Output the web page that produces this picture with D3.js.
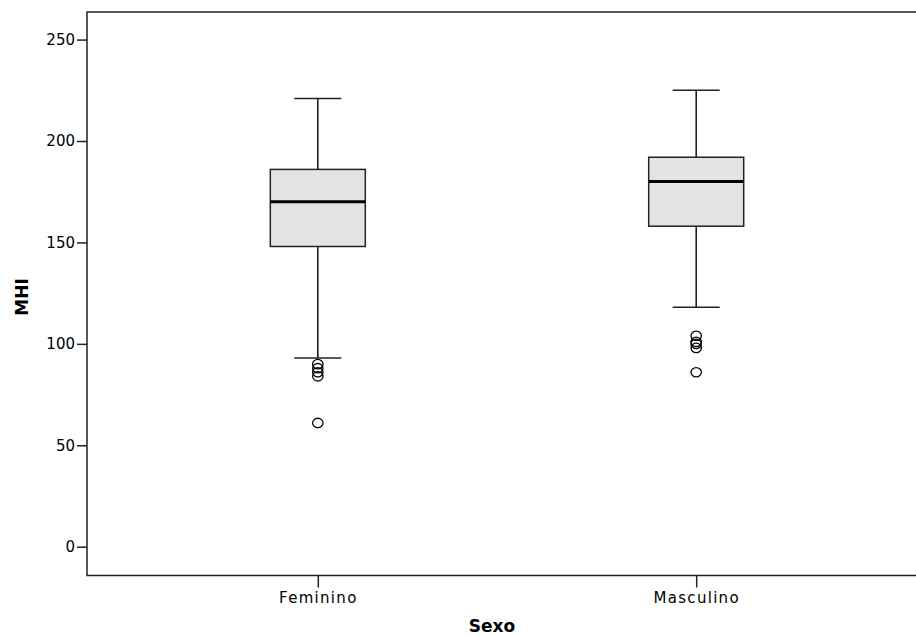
<!DOCTYPE html>
<html>
<head>
<meta charset="utf-8">
<script src="https://cdn.jsdelivr.net/npm/d3@7"></script>
<style>
  body { margin: 0; background: #fff; }
  text { font-family: "DejaVu Sans", Verdana, sans-serif; fill: #000; }
</style>
</head>
<body>
<div id="chart"></div>
<script>
// values
const categories = ['Feminino', 'Masculino'];
const whiskerLow = [93, 118];
const q1 = [148, 158];
const median = [170, 180];
const q3 = [186, 192];
const whiskerHigh = [221, 225];
const outliers = [
  [90, 88, 86, 84, 61],
  [104, 101, 100, 98, 86]
];
const yTicks = [0, 50, 100, 150, 200, 250];

const width = 916, height = 637;
const plot = { left: 87, right: 927, top: 12, bottom: 575.5 };

const svg = d3.select('#chart').append('svg')
  .attr('width', width)
  .attr('height', height);

const x = d3.scalePoint().domain(categories).range([plot.left, plot.right]).padding(0.61);
const y = d3.scaleLinear().domain([-14.2, 263.6]).range([plot.bottom, plot.top]);

const boxW = 95, capW = 47;

const boxes = categories.map((c, i) => ({
  cat: c, lo: whiskerLow[i], q1: q1[i], med: median[i], q3: q3[i], hi: whiskerHigh[i], out: outliers[i]
}));

// frame (right side sits outside the window, as in the reference)
svg.append('rect')
  .attr('x', plot.left).attr('y', plot.top)
  .attr('width', plot.right - plot.left).attr('height', plot.bottom - plot.top)
  .attr('fill', 'none').attr('stroke', '#222').attr('stroke-width', 1.5);

// axes
const yAxis = svg.append('g')
  .attr('transform', `translate(${plot.left},0)`)
  .call(d3.axisLeft(y).tickValues(yTicks).tickSize(10).tickPadding(2));
const xAxis = svg.append('g')
  .attr('transform', `translate(0,${plot.bottom})`)
  .call(d3.axisBottom(x).tickSize(12).tickPadding(5));

[yAxis, xAxis].forEach(a => {
  a.select('.domain').remove();
  a.selectAll('line').attr('stroke', '#222').attr('stroke-width', 1.5);
});
yAxis.selectAll('text').style('font-size', '15px').attr('fill', '#000');
xAxis.selectAll('text').style('font-size', '15px').style('letter-spacing', '1.3px').attr('fill', '#000');

const g = svg.selectAll('.box').data(boxes).enter().append('g').attr('class', 'box');

// whiskers
g.append('line')
  .attr('x1', d => x(d.cat)).attr('x2', d => x(d.cat))
  .attr('y1', d => y(d.hi)).attr('y2', d => y(d.q3))
  .attr('stroke', '#111').attr('stroke-width', 1.5);
g.append('line')
  .attr('x1', d => x(d.cat)).attr('x2', d => x(d.cat))
  .attr('y1', d => y(d.q1)).attr('y2', d => y(d.lo))
  .attr('stroke', '#111').attr('stroke-width', 1.5);
g.selectAll('.cap').data(d => [d.hi, d.lo].map(v => ({ cat: d.cat, v }))).enter()
  .append('line')
  .attr('x1', d => x(d.cat) - capW / 2).attr('x2', d => x(d.cat) + capW / 2)
  .attr('y1', d => y(d.v)).attr('y2', d => y(d.v))
  .attr('stroke', '#222').attr('stroke-width', 1.5);

// box
g.append('rect')
  .attr('x', d => x(d.cat) - boxW / 2).attr('width', boxW)
  .attr('y', d => y(d.q3)).attr('height', d => y(d.q1) - y(d.q3))
  .attr('fill', '#e3e3e3').attr('stroke', '#222').attr('stroke-width', 1.5);

// median
g.append('line')
  .attr('x1', d => x(d.cat) - boxW / 2).attr('x2', d => x(d.cat) + boxW / 2)
  .attr('y1', d => y(d.med)).attr('y2', d => y(d.med))
  .attr('stroke', '#000').attr('stroke-width', 3);

// outliers
g.selectAll('circle').data(d => d.out.map(v => ({ cat: d.cat, v }))).enter()
  .append('ellipse')
  .attr('cx', d => x(d.cat)).attr('cy', d => y(d.v))
  .attr('rx', 5.2).attr('ry', 4.7)
  .attr('fill', 'none').attr('stroke', '#000').attr('stroke-width', 1.3);

// axis titles
svg.append('text')
  .attr('x', (plot.left + plot.right) / 2 - 15).attr('y', 632)
  .attr('text-anchor', 'middle')
  .style('font-size', '17px').style('font-weight', 'bold')
  .text('Sexo');

svg.append('text')
  .attr('transform', 'translate(28,297) rotate(-90)')
  .attr('text-anchor', 'middle')
  .style('font-size', '17px').style('font-weight', 'bold')
  .text('MHI');
</script>
</body>
</html>
